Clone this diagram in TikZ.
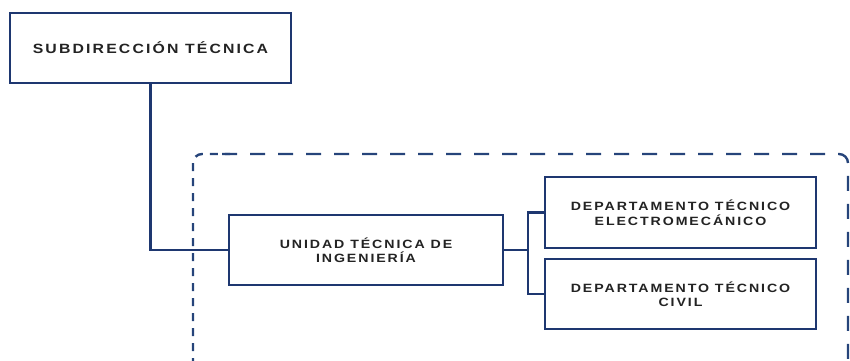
\documentclass[tikz,border=0pt]{standalone}
\usepackage{fontspec}
\newfontfamily\lblfont[LetterSpace=16, FakeStretch=1.18]{Liberation Sans}
\definecolor{navy}{RGB}{30,55,112}
\definecolor{dashnavy}{RGB}{38,68,122}
\definecolor{txt}{RGB}{35,35,35}
\tikzset{
  orgbox/.style={draw=navy, line width=1.9pt, fill=white, inner sep=0pt, align=center,
    text=txt, font=\lblfont\bfseries\fontsize{12}{14.5}\selectfont},
  conn/.style={draw=navy, line width=2.2pt},
  dashline/.style={draw=dashnavy, line width=2.4pt, rounded corners=9pt}
}
\begin{document}
\begin{tikzpicture}[x=1pt,y=-1pt]
\useasboundingbox (0,0) rectangle (850,360);
% dashed group frame
\draw[dashline, dash pattern=on 8pt off 7pt] (193,366) -- (193,154) -- (230,154);
\draw[dashline, dash pattern=on 15pt off 13pt] (222,154) -- (848,154) -- (848,366);
% connectors
\coordinate (j) at (528,250);
\node[orgbox, minimum width=281pt, minimum height=70pt, font=\lblfont\bfseries\fontsize{13.4}{15}\selectfont] (sub) at (150.5,48) {SUBDIRECCIÓN TÉCNICA};
\node[orgbox, minimum width=274pt, minimum height=70pt] (uni) at (366,250) {UNIDAD TÉCNICA DE\\INGENIERÍA};
\node[orgbox, minimum width=271pt, minimum height=71pt] (d1) at (680.5,212.5) {DEPARTAMENTO TÉCNICO\\ELECTROMECÁNICO};
\node[orgbox, minimum width=271pt, minimum height=70pt] (d2) at (680.5,294) {DEPARTAMENTO TÉCNICO\\CIVIL};
\draw[conn] (sub.south) |- (uni.west);
\draw[conn] (uni.east) -- (j);
\draw[conn] (d1.west) -| (j) |- (d2.west);
\end{tikzpicture}
\end{document}
